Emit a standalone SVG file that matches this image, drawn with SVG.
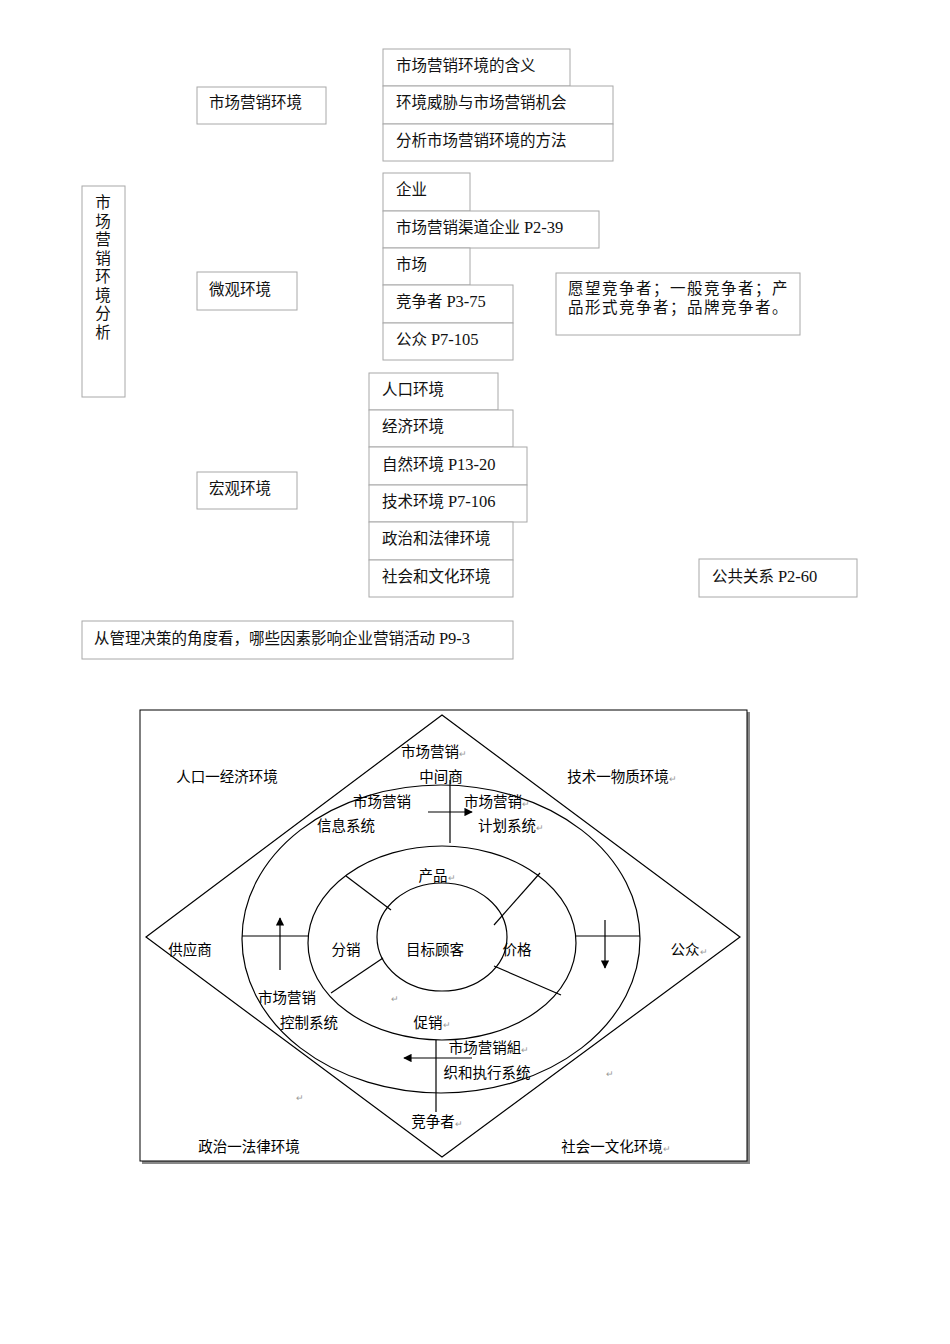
<svg xmlns="http://www.w3.org/2000/svg" width="950" height="1344" viewBox="0 0 950 1344">
<style>
.b{fill:#fff;stroke:#a8a8a8;stroke-width:1}
.t{font-family:"Liberation Serif","Noto Sans CJK SC",serif;font-size:15.5px;fill:#111}
.p{font-size:16.5px}
.s{font-family:"Liberation Sans","Noto Sans CJK SC",sans-serif;font-size:14.5px;fill:#000;text-anchor:middle}
.r{font-family:"Liberation Sans",sans-serif;font-size:9px;fill:#999}
.l{fill:none;stroke:#000;stroke-width:1.2}
</style>
<defs><marker id="ah" viewBox="0 0 10 10" refX="9" refY="5" markerWidth="7" markerHeight="7" orient="auto"><path d="M0,0L10,5L0,10z" fill="#000"/></marker></defs>
<rect width="950" height="1344" fill="#fff"/>
<g id="n-root"><rect class="b" x="82" y="186" width="43" height="211"/>
<text class="t" x="103" y="208" text-anchor="middle"><tspan x="103">市</tspan><tspan x="103" dy="18.5">场</tspan><tspan x="103" dy="18.5">营</tspan><tspan x="103" dy="18.5">销</tspan><tspan x="103" dy="18.5">环</tspan><tspan x="103" dy="18.5">境</tspan><tspan x="103" dy="18.5">分</tspan><tspan x="103" dy="18.5">析</tspan></text></g>
<g id="n-a"><rect class="b" x="197" y="87" width="129" height="37"/><text class="t" x="209" y="108">市场营销环境</text></g>
<g id="n-a1"><rect class="b" x="383" y="49" width="187" height="37"/><text class="t" x="396" y="71">市场营销环境的含义</text></g>
<g id="n-a2"><rect class="b" x="383" y="86" width="230" height="38"/><text class="t" x="396" y="108">环境威胁与市场营销机会</text></g>
<g id="n-a3"><rect class="b" x="383" y="124" width="230" height="37"/><text class="t" x="396" y="146">分析市场营销环境的方法</text></g>
<g id="n-b"><rect class="b" x="197" y="272" width="100" height="38"/><text class="t" x="209" y="295">微观环境</text></g>
<g id="n-b1"><rect class="b" x="383" y="173" width="87" height="38"/><text class="t" x="396" y="195">企业</text></g>
<g id="n-b2"><rect class="b" x="383" y="211" width="216" height="37"/><text class="t" x="396" y="233">市场营销渠道企业 <tspan class="p">P2-39</tspan></text></g>
<g id="n-b3"><rect class="b" x="383" y="248" width="87" height="37"/><text class="t" x="396" y="270">市场</text></g>
<g id="n-b4"><rect class="b" x="383" y="285" width="130" height="38"/><text class="t" x="396" y="307">竞争者 <tspan class="p">P3-75</tspan></text></g>
<g id="n-b5"><rect class="b" x="383" y="323" width="130" height="37"/><text class="t" x="396" y="345">公众 <tspan class="p">P7-105</tspan></text></g>
<g id="n-bn"><rect class="b" x="556" y="273" width="244" height="62"/><text class="t" x="568" y="294" letter-spacing="1.5">愿望竞争者；一般竞争者；产</text><text class="t" x="568" y="313" letter-spacing="1.5">品形式竞争者；品牌竞争者。</text></g>
<g id="n-c"><rect class="b" x="197" y="472" width="100" height="37"/><text class="t" x="209" y="494">宏观环境</text></g>
<g id="n-c1"><rect class="b" x="369" y="373" width="129" height="37"/><text class="t" x="382" y="395">人口环境</text></g>
<g id="n-c2"><rect class="b" x="369" y="410" width="144" height="37"/><text class="t" x="382" y="432">经济环境</text></g>
<g id="n-c3"><rect class="b" x="369" y="447" width="158" height="38"/><text class="t" x="382" y="470">自然环境 <tspan class="p">P13-20</tspan></text></g>
<g id="n-c4"><rect class="b" x="369" y="485" width="158" height="37"/><text class="t" x="382" y="507">技术环境 <tspan class="p">P7-106</tspan></text></g>
<g id="n-c5"><rect class="b" x="369" y="522" width="144" height="38"/><text class="t" x="382" y="544">政治和法律环境</text></g>
<g id="n-c6"><rect class="b" x="369" y="560" width="144" height="37"/><text class="t" x="382" y="582">社会和文化环境</text></g>
<g id="n-d"><rect class="b" x="699" y="559" width="158" height="38"/><text class="t" x="712" y="582">公共关系 <tspan class="p">P2-60</tspan></text></g>
<g id="n-e"><rect class="b" x="82" y="621" width="431" height="38"/><text class="t" x="94" y="644">从管理决策的角度看，哪些因素影响企业营销活动 <tspan class="p">P9-3</tspan></text></g>

<g id="fig">
<rect x="142" y="712" width="608" height="452" fill="#888"/>
<rect x="140" y="710" width="607" height="451" fill="#fff" stroke="#000" stroke-width="1"/>
<polygon points="442,715 740,937 442,1157 146,937" class="l" stroke-width="1"/>
<ellipse cx="441" cy="939" rx="199" ry="154" class="l" stroke-width="1.5" fill="#fff"/>
<ellipse cx="442" cy="943" rx="134" ry="97" class="l" stroke-width="1.5"/>
<ellipse cx="442" cy="937" rx="65" ry="54" class="l" stroke-width="1.5"/>
</g>
<g id="connectors">
<line class="l" x1="450" y1="780" x2="450" y2="843"/>
<line class="l" x1="428" y1="812" x2="472" y2="812" marker-end="url(#ah)"/>
<line class="l" x1="242" y1="936" x2="308" y2="936"/>
<line class="l" x1="280" y1="970" x2="280" y2="918" marker-end="url(#ah)"/>
<line class="l" x1="576" y1="936" x2="640" y2="936"/>
<line class="l" x1="605" y1="920" x2="605" y2="968" marker-end="url(#ah)"/>
<line class="l" x1="436" y1="1040" x2="436" y2="1112"/>
<line class="l" x1="472" y1="1058" x2="404" y2="1058" marker-end="url(#ah)"/>
<line class="l" x1="346" y1="876" x2="391" y2="910"/>
<line class="l" x1="540" y1="873" x2="494" y2="925"/>
<line class="l" x1="383" y1="958" x2="331" y2="993"/>
<line class="l" x1="494" y1="966" x2="561" y2="995"/>
</g>
<g id="labels">
<text class="s" x="434" y="757">市场营销<tspan class="r">↵</tspan></text>
<text class="s" x="441" y="782">中间商</text>
<text class="s" x="227" y="782">人口一经济环境</text>
<text class="s" x="622" y="782">技术一物质环境<tspan class="r">↵</tspan></text>
<text class="s" x="382" y="807">市场营销</text>
<text class="s" x="497" y="807">市场营销<tspan class="r">↵</tspan></text>
<text class="s" x="346" y="831">信息系统</text>
<text class="s" x="511" y="831">计划系统<tspan class="r">↵</tspan></text>
<text class="s" x="437" y="881">产品<tspan class="r">↵</tspan></text>
<text class="s" x="190" y="955">供应商</text>
<text class="s" x="346" y="955">分销</text>
<text class="s" x="435" y="955">目标顾客</text>
<text class="s" x="517" y="955">价格</text>
<text class="s" x="689" y="955">公众<tspan class="r">↵</tspan></text>
<text class="r" x="391" y="1002">↵</text>
<text class="s" x="287" y="1003">市场营销</text>
<text class="s" x="309" y="1028">控制系统</text>
<text class="s" x="432" y="1028">促销<tspan class="r">↵</tspan></text>
<text class="s" x="489" y="1053">市场营销組<tspan class="r">↵</tspan></text>
<text class="s" x="487" y="1078">织和执行系统</text>
<text class="r" x="606" y="1077">↵</text>
<text class="r" x="296" y="1101">↵</text>
<text class="s" x="437" y="1127">竞争者<tspan class="r">↵</tspan></text>
<text class="s" x="249" y="1152">政治一法律环境</text>
<text class="s" x="616" y="1152">社会一文化环境<tspan class="r">↵</tspan></text>
</g>
</svg>
